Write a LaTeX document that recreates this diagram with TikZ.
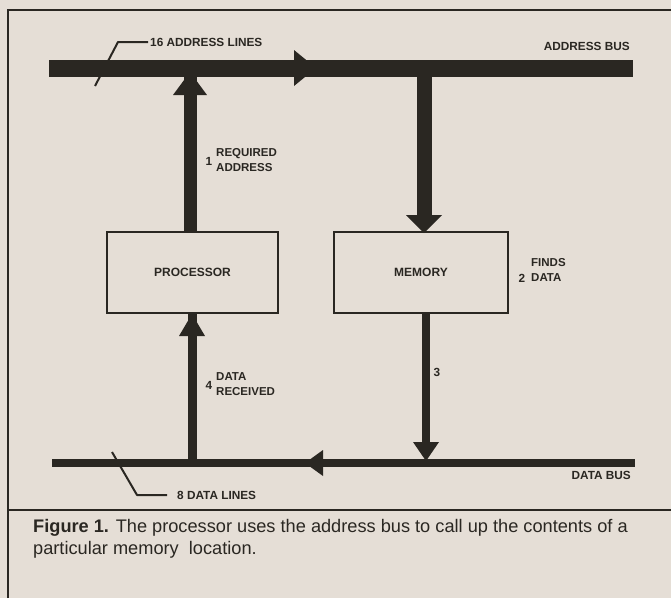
\documentclass[tikz,border=0pt]{standalone}
\usepackage{fontspec}
\setmainfont{Liberation Sans}
\definecolor{paper}{HTML}{E5DED6}
\definecolor{ink}{HTML}{2A2722}
\begin{document}
\begin{tikzpicture}[x=1pt,y=-1pt,
  lbl/.style={font=\fontsize{11.8}{14}\selectfont\bfseries, text=ink, inner sep=0pt},
  twoline/.style={lbl, align=left, font=\fontsize{11.5}{15}\selectfont\bfseries},
  unit/.style={draw=ink, line width=1.8pt, fill=paper, minimum width=171pt, minimum height=81pt, inner sep=0pt, font=\fontsize{12}{14}\selectfont\bfseries, text=ink},
  bus/.style={draw=ink, line cap=butt},
  head/.style={fill=ink},
  tick/.style={draw=ink, line width=2pt, line join=round},
  captxt/.style={font=\fontsize{18.2}{22}\selectfont, text=ink, inner sep=0pt, anchor=west}
]
\fill[paper] (0,0) rectangle (671,598);
\useasboundingbox (0,0) rectangle (671,598);
% frame
\draw[ink, line width=1.6pt] (8,598) -- (8,10) -- (671,10);
\draw[ink, line width=1.4pt] (8,510) -- (671,510);

% boxes
\node[unit] (proc) at (192.5,272.5) {PROCESSOR};
\node[unit, minimum width=174pt] (mem) at (421,272.5) {MEMORY};

% bus coordinates
\coordinate (aL) at (49,68);
\coordinate (aR) at (633,68);
\coordinate (dL) at (52,463);
\coordinate (dR) at (635,463);
\coordinate (aP) at (190,76);
\coordinate (aM) at (424,76);
\coordinate (dP) at (192,463);
\coordinate (dM) at (426,463);

% buses
\draw[bus, line width=17pt] (aL) -- (aR);
\draw[bus, line width=8pt] (dL) -- (dR);
\fill[head] (294,50) -- (316,68) -- (294,86) -- cycle;
\fill[head] (323,450) -- (305,463) -- (323,476) -- cycle;

% processor -> address bus
\draw[bus, line width=13pt] (proc.north -| aP) -- (aP);
\fill[head] (173,95) -- (190,72) -- (207,95) -- cycle;
% address bus -> memory
\draw[bus, line width=15pt] (aM) -- (424,216);
\fill[head] (406,215) -- (424,233) -- (442,215) -- cycle;
% data bus -> processor
\draw[bus, line width=9pt] (dP) -- (proc.south -| dP);
\fill[head] (179,336) -- (192,314) -- (205,336) -- cycle;
% memory -> data bus
\draw[bus, line width=8pt] (mem.south -| dM) -- (426,443);
\fill[head] (413,442) -- (426,461) -- (439,442) -- cycle;

% ticks
\coordinate (t1a) at (148,42);
\coordinate (t1b) at (118,42);
\coordinate (t1c) at (95,86);
\draw[tick] (t1a) -- (t1b) -- (t1c);
\coordinate (t2a) at (112,452);
\coordinate (t2b) at (137,495);
\coordinate (t2c) at (167,495);
\draw[tick] (t2a) -- (t2b) -- (t2c);

% labels
\node[lbl, anchor=west] (la) at (150,42) {16 ADDRESS LINES};
\node[lbl, anchor=east] (lab) at (630,46) {ADDRESS BUS};
\node[lbl] (n1) at (209,161) {1};
\node[twoline, anchor=west] (l1) at (216,160.5) {REQUIRED\\ADDRESS};
\node[lbl] (n2) at (522,278) {2};
\node[twoline, anchor=west] (l2) at (531,269.5) {FINDS\\DATA};
\node[lbl] (n3) at (437,372) {3};
\node[lbl] (n4) at (209,385) {4};
\node[twoline, anchor=west] (l4) at (216,384.5) {DATA\\RECEIVED};
\node[lbl, anchor=west] (ld) at (177,495) {8 DATA LINES};
\node[lbl, anchor=east] (ldb) at (631,475) {DATA BUS};

% caption
\node[captxt] (c1) at (33,528) {\textbf{Figure 1.} The processor uses the address bus to call up the contents of a};
\node[captxt] (c2) at (33,550) {particular memory\ \ location.};
\end{tikzpicture}
\end{document}
